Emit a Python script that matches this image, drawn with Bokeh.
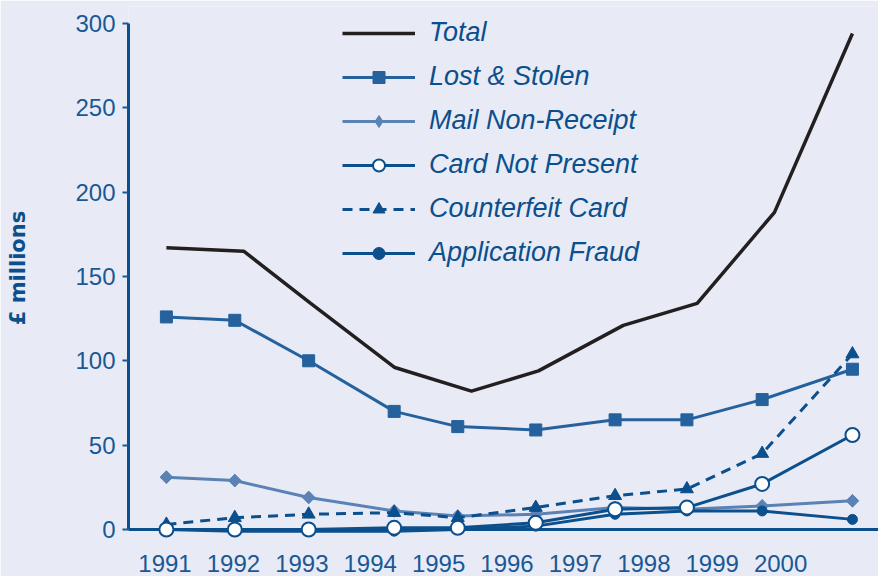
import math
from bokeh.plotting import figure
from bokeh.models import LegendItem, Legend, FixedTicker, Range1d
from bokeh.embed import file_html
from bokeh.resources import INLINE

# ---- data ----
years = [1991, 1992, 1993, 1994, 1995, 1996, 1997, 1998, 1999, 2000]
y_ticks = [0, 50, 100, 150, 200, 250, 300]

# horizontal positions of the plotted points (in year units, as drawn)
x_total = [1991.02, 1992.15, 1993.13, 1994.36, 1995.48, 1996.46, 1997.70, 1998.78, 1999.91, 2001.05]
x_points = [1991.02, 1992.02, 1993.10, 1994.35, 1995.28, 1996.42, 1997.58, 1998.63, 1999.73, 2001.05]

total = [167, 165, 134, 96, 82, 94, 121, 134, 188, 294]
lost_stolen = [126, 124, 100, 70, 61, 59, 65, 65, 77, 95]
mail_non_receipt = [31, 29, 19, 11, 8, 9, 13, 12, 14, 17]
card_not_present = [0, 0, 0, 1, 1, 4, 12, 13, 27, 56]
counterfeit = [3, 7, 9, 10, 7, 13, 20, 24, 45, 104]
application_fraud = [0, -1, -1, -1, 0, 2, 9, 11, 11, 6]

BG = "#e8ebf5"
DARK = "#0b4f8c"
MID = "#24619d"
LIGHT = "#5a82b5"
BLACK = "#231f20"
TICKC = "#1a5895"

p = figure(width=878, height=576, output_backend="svg", toolbar_location=None,
           x_range=Range1d(1990.466, 2001.431), y_range=Range1d(0, 310),
           min_border_left=128, min_border_right=0, min_border_top=6,
           min_border_bottom=47)
p.background_fill_color = BG
p.border_fill_color = BG
p.outline_line_color = None
p.grid.visible = False

# axes
p.xaxis.ticker = FixedTicker(ticks=years)
p.yaxis.ticker = FixedTicker(ticks=y_ticks)
p.yaxis.bounds = (0, 300)
for ax in (p.xaxis[0], p.yaxis[0]):
    ax.axis_line_color = DARK
    ax.axis_line_width = 3
    ax.major_label_text_color = TICKC
    ax.major_label_text_font = "Liberation Sans"
    ax.major_label_text_font_size = "24px"
    ax.minor_tick_line_color = None
p.xaxis.major_tick_line_color = None
p.xaxis.major_label_standoff = 19
p.yaxis.major_tick_line_color = TICKC
p.yaxis.major_tick_line_width = 2
p.yaxis.major_tick_out = 6
p.yaxis.major_tick_in = 0
p.yaxis.major_label_standoff = 7
p.yaxis.axis_label = "£ millions"
p.yaxis.axis_label_text_font = "DejaVu Sans"
p.yaxis.axis_label_text_font_style = "bold"
p.yaxis.axis_label_text_font_size = "21px"
p.yaxis.axis_label_text_color = DARK
p.yaxis.axis_label_standoff = 42

lvl = "overlay"
r_total = p.line(x_total, total, line_color=BLACK, line_width=3.5, level=lvl)

l_ls = p.line(x_points, lost_stolen, line_color=MID, line_width=3, level=lvl)
m_ls = p.scatter(x_points, lost_stolen, marker="square", size=12, fill_color=MID,
                 line_color=MID, level=lvl)

l_mail = p.line(x_points, mail_non_receipt, line_color=LIGHT, line_width=3, level=lvl)
d_mail = p.scatter(x_points, mail_non_receipt, marker="diamond", size=12, fill_color=LIGHT,
                   line_color=LIGHT, level=lvl)
m_mail = p.scatter(x_points, mail_non_receipt, marker="square", size=9, angle=math.pi / 4,
                   fill_color=LIGHT, line_color=LIGHT, level=lvl)

l_cf = p.line(x_points, counterfeit, line_color=DARK, line_width=3, line_dash="10 7", level=lvl)
m_cf = p.scatter(x_points, counterfeit, marker="triangle", size=13, fill_color=DARK,
                 line_color=DARK, level=lvl)

l_af = p.line(x_points, application_fraud, line_color=DARK, line_width=3, level=lvl)
m_af = p.scatter(x_points, application_fraud, marker="circle", size=10, fill_color=DARK,
                 line_color=DARK, level=lvl)

l_cnp = p.line(x_points, card_not_present, line_color=DARK, line_width=3, level=lvl)
m_cnp = p.scatter(x_points, card_not_present, marker="circle", size=14, fill_color="white",
                  line_color=DARK, line_width=2, level=lvl)

legend = Legend(items=[
    LegendItem(label="Total", renderers=[r_total]),
    LegendItem(label="Lost & Stolen", renderers=[l_ls, m_ls]),
    LegendItem(label="Mail Non-Receipt", renderers=[l_mail, d_mail]),
    LegendItem(label="Card Not Present", renderers=[l_cnp, m_cnp]),
    LegendItem(label="Counterfeit Card", renderers=[l_cf, m_cf]),
    LegendItem(label="Application Fraud", renderers=[l_af, m_af]),
], location=(214, 261))
legend.background_fill_alpha = 0
legend.border_line_color = None
legend.padding = 0
legend.margin = 0
legend.spacing = 13
legend.glyph_width = 73
legend.glyph_height = 30
legend.label_height = 30
legend.label_standoff = 14
legend.label_text_font = "Liberation Sans"
legend.label_text_font_style = "italic"
legend.label_text_font_size = "27px"
legend.label_text_color = DARK
p.add_layout(legend, "center")

open("out.html", "w").write(file_html(p, INLINE))
